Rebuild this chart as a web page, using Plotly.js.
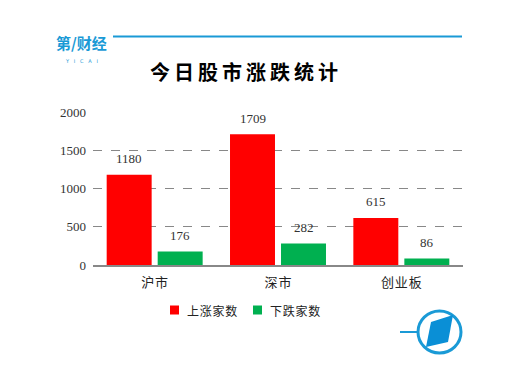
<!DOCTYPE html>
<html>
<head>
<meta charset="utf-8">
<script src="https://cdn.plot.ly/plotly-3.0.1.min.js"></script>
<style>html,body{margin:0;padding:0;background:#fff;}#chart{width:521px;height:369px;}</style>
</head>
<body>
<div id="chart"></div>
<script>
// ---- data ----
const categories = ['沪市', '深市', '创业板'];
const upCounts = [1180, 1709, 615];
const downCounts = [176, 282, 86];
const seriesNames = ['上涨家数', '下跌家数'];
const yTickVals = [0, 500, 1000, 1500, 2000];
const titleText = '今日股市涨跌统计';

// ---- helpers ----
const L = 93, R = 58, T = 112, B = 104, W = 521, H = 369;
const PW = W - L - R, PH = H - T - B;
const X = px => (px - L) / PW;
const Y = py => (H - B - py) / PH;
const spaced = (s, sp) => s.split('').join(sp);

const red = '#ff0000', green = '#00b050', blue = '#1a9ad6';
const serif = 'Liberation Serif, Noto Sans CJK SC, serif';
const cjk = 'Noto Sans CJK SC, sans-serif';

const traces = [
  {type: 'bar', x: categories, y: upCounts, name: seriesNames[0], marker: {color: red}, showlegend: false, hoverinfo: 'none'},
  {type: 'bar', x: categories, y: downCounts, name: seriesNames[1], marker: {color: green}, showlegend: false, hoverinfo: 'none'}
];

const annotations = [];
categories.forEach((c, i) => {
  [upCounts, downCounts].forEach((arr, k) => {
    annotations.push({
      x: c, y: arr[i], xref: 'x', yref: 'y', xshift: k === 0 ? -25.5 : 25.5, yshift: 16,
      text: String(arr[i]), showarrow: false, yanchor: 'middle',
      font: {family: serif, size: 13, color: '#333'}
    });
  });
});

// legend (manual)
const legendItems = [
  {name: seriesNames[0], color: red, sq: 174.5, tx: 185},
  {name: seriesNames[1], color: green, sq: 257.5, tx: 268}
];
const shapes = [];
legendItems.forEach(it => {
  shapes.push({type: 'rect', xref: 'paper', yref: 'paper',
    x0: X(it.sq - 4.5), x1: X(it.sq + 4.5), y0: Y(310 + 4.5), y1: Y(310 - 4.5),
    fillcolor: it.color, line: {width: 0}});
  annotations.push({xref: 'paper', yref: 'paper', x: X(it.tx), y: Y(310), xanchor: 'left', yanchor: 'middle',
    text: spaced(it.name, '\u200A'), showarrow: false, font: {family: cjk, size: 12, color: '#222'}});
});

// top brand line and logo
shapes.push({type: 'line', xref: 'paper', yref: 'paper', x0: X(113), x1: X(462), y0: Y(36.5), y1: Y(36.5),
  line: {color: blue, width: 2}});
annotations.push({xref: 'paper', yref: 'paper', x: X(81), y: Y(42), xanchor: 'center', yanchor: 'middle',
  text: '<b>第/财经</b>', showarrow: false, font: {family: cjk, size: 15, color: blue}});
annotations.push({xref: 'paper', yref: 'paper', x: X(81), y: Y(56), xanchor: 'center', yanchor: 'top',
  text: 'Y   I   C   A   I', showarrow: false, font: {family: 'DejaVu Sans', size: 5, color: blue}});

// bottom emblem
shapes.push({type: 'line', xref: 'paper', yref: 'paper', x0: X(400), x1: X(418), y0: Y(332), y1: Y(332),
  line: {color: blue, width: 2}});
shapes.push({type: 'circle', xref: 'paper', yref: 'paper', x0: X(418), x1: X(461), y0: Y(353), y1: Y(311),
  line: {color: blue, width: 3}});
const pts = [[453, 315], [431, 322], [426, 347], [448, 342]];
shapes.push({type: 'path', xref: 'paper', yref: 'paper',
  path: 'M' + pts.map(p => X(p[0]) + ',' + Y(p[1])).join('L') + 'Z',
  fillcolor: '#0a8fd6', line: {width: 0}});

const layout = {
  width: W, height: H,
  margin: {l: L, r: R, t: T, b: B, pad: 0},
  paper_bgcolor: '#fff', plot_bgcolor: '#fff',
  title: {text: '<b>' + spaced(titleText, '\u2009') + '</b>', x: X(244), xref: 'paper', y: 1 - 73 / H, yref: 'container',
    xanchor: 'center', yanchor: 'middle', font: {family: cjk, size: 20, color: '#000'}},
  barmode: 'group', bargap: 0.173, bargroupgap: 0.118,
  showlegend: false,
  xaxis: {type: 'category', tickvals: categories, ticktext: categories.map(c => spaced(c, '\u200A')),
    showline: true, linecolor: '#888', linewidth: 1.5, ticks: '', showgrid: false,
    tickfont: {family: cjk, size: 13, color: '#222'}, ticklabelstandoff: 5, fixedrange: true},
  yaxis: {range: [0, 2000], tickvals: yTickVals, showgrid: true, gridcolor: '#888', griddash: 'dash', gridwidth: 1,
    zeroline: false, showline: false, ticks: '', ticklabelstandoff: 6,
    tickfont: {family: serif, size: 13, color: '#333'}, fixedrange: true},
  annotations: annotations,
  shapes: shapes
};

Plotly.newPlot('chart', traces, layout, {displayModeBar: false, staticPlot: true});
</script>
</body>
</html>
